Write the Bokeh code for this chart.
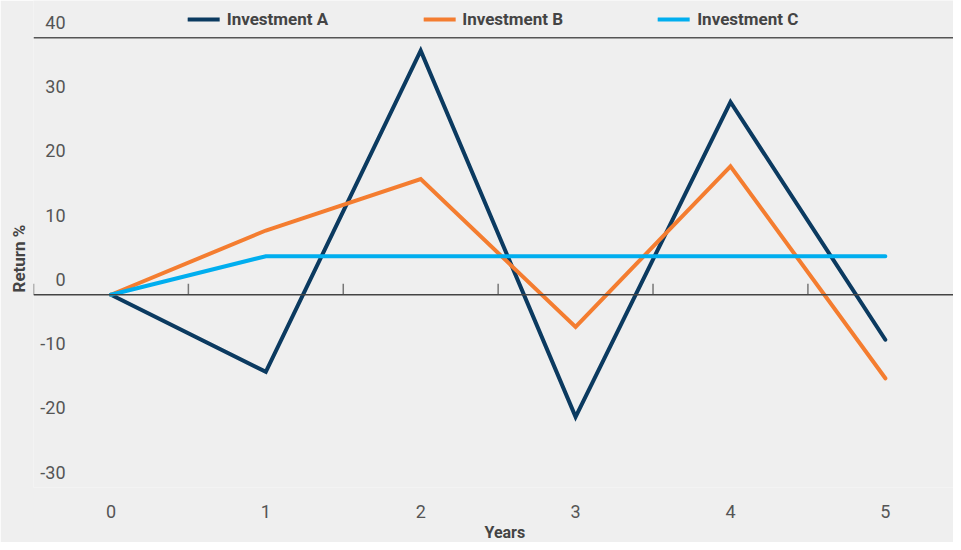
from bokeh.plotting import figure
from bokeh.models import (ColumnDataSource, FixedTicker, Span, Legend, LegendItem,
                          Range1d, LinearAxis, Title)
from bokeh.core.properties import value
from bokeh.embed import file_html
from bokeh.resources import INLINE

# ---- data ----
years = [0, 1, 2, 3, 4, 5]
inv_a = [0, -12, 38, -19, 30, -7]
inv_b = [0, 10, 18, -5, 20, -13]
inv_c = [0, 6, 6, 6, 6, 6]
series_names = ["Investment A", "Investment B", "Investment C"]
y_ticks = [40, 30, 20, 10, 0, -10, -20, -30]
x_title = "Years"
y_title = "Return %"

FONT = "Roboto"
BG = "#efefef"
COLORS = ["#0b3a60", "#f47d30", "#00aeef"]

p = figure(width=953, height=542, output_backend="svg", toolbar_location=None,
           x_range=Range1d(-0.5, 5.44), y_range=Range1d(min(y_ticks), max(y_ticks) + 5.8),
           x_axis_type=None, y_axis_type=None,
           min_border_left=33, min_border_right=0, min_border_top=0, min_border_bottom=53)
p.background_fill_color = BG
p.border_fill_color = BG
p.outline_line_color = None

# horizontal grid lines
inner = [t for t in y_ticks if t not in (max(y_ticks), 0)]
p.ygrid.ticker = FixedTicker(ticks=inner)
p.ygrid.grid_line_color = "#9a9a9a"
p.ygrid.grid_line_width = 1.5
p.xgrid.visible = False
p.add_layout(Span(location=max(y_ticks), dimension="width", line_color="#555555", line_width=1.5))
p.add_layout(Span(location=0, dimension="width", line_color="#444444", line_width=1.5))

# category-boundary ticks on the zero line
boundaries = [y - 0.5 for y in years]
p.segment(x0=boundaries, y0=[0] * len(boundaries), x1=boundaries, y1=[1.7] * len(boundaries),
          line_color="#777777", line_width=1.5)

# x axis (category labels)
x_axis = LinearAxis(ticker=FixedTicker(ticks=years, minor_ticks=[]),
                    axis_line_color=None, major_tick_line_color=None, minor_tick_line_color=None,
                    major_tick_out=0, major_tick_in=0, major_label_standoff=17,
                    major_label_text_font=FONT, major_label_text_font_size="18px",
                    major_label_text_color="#555555")
p.add_layout(x_axis, "below")
p.add_layout(Title(text=x_title, align="left", offset=451, standoff=1, text_font=FONT,
                   text_font_style="bold", text_font_size="16px", text_color="#444444"), "below")

# y title
p.add_layout(Title(text=y_title, align="left", offset=195, standoff=10, text_font=FONT,
                   text_font_style="bold", text_font_size="17px", text_color="#444444"), "left")

# y tick labels sitting above the grid lines
tick_src = ColumnDataSource(dict(x=[p.x_range.start] * len(y_ticks), y=y_ticks,
                                 t=[str(v) for v in y_ticks]))
p.text(x="x", y="y", text="t", source=tick_src, x_offset=32, y_offset=-9,
       text_align="right", text_baseline="bottom", text_font=value(FONT),
       text_font_size="18px", text_color="#555555")

# series
renderers = []
for name, vals, col in zip(series_names, [inv_a, inv_b, inv_c], COLORS):
    r = p.line(years, vals, line_color=col, line_width=4, line_join="miter", line_cap="round")
    renderers.append(r)

legend = Legend(items=[LegendItem(label=n, renderers=[r]) for n, r in zip(series_names, renderers)],
                orientation="horizontal", location="top_center",
                glyph_width=32, glyph_height=10, label_standoff=7, spacing=95,
                label_height=20, padding=2, margin=9,
                border_line_color=None, background_fill_alpha=0,
                label_text_font=FONT, label_text_font_style="bold",
                label_text_font_size="17px", label_text_color="#444444")
p.add_layout(legend)

open("out.html", "w").write(file_html(p, INLINE))
